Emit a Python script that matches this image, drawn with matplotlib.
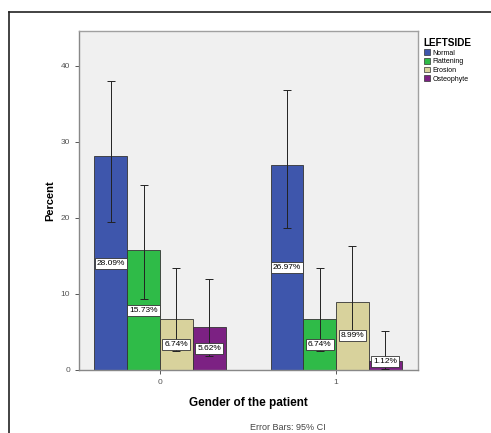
"""SPSS-style clustered bar chart: LEFTSIDE by gender, 95% CI error bars."""
import matplotlib
matplotlib.use("Agg")
import matplotlib.pyplot as plt
import numpy as np
from matplotlib.patches import Patch
from matplotlib.lines import Line2D

genders = ["0", "1"]
categories = ["Normal", "Flattening", "Erosion", "Osteophyte"]
percent = {
    "Normal": [28.09, 26.97],
    "Flattening": [15.73, 6.74],
    "Erosion": [6.74, 8.99],
    "Osteophyte": [5.62, 1.12],
}
ci_low = {
    "Normal": [19.5, 18.6],
    "Flattening": [9.3, 2.5],
    "Erosion": [2.5, 3.9],
    "Osteophyte": [1.9, 0.1],
}
ci_high = {
    "Normal": [38.0, 36.8],
    "Flattening": [24.3, 13.4],
    "Erosion": [13.4, 16.3],
    "Osteophyte": [11.9, 5.1],
}

colors = ["#3e56ac", "#2fbb48", "#d8d29c", "#7c2183"]

plt.rcParams["font.family"] = ["Liberation Sans", "DejaVu Sans"]

fig = plt.figure(figsize=(4.91, 4.33), dpi=100)
ax = fig.add_axes([79 / 491, 63 / 433, 339 / 491, 339 / 433])
ax.set_facecolor("#f0f0f0")

x = np.arange(len(genders))
width = 0.186
for i, cat in enumerate(categories):
    pos = x + (i - 1.5) * width
    vals = np.array(percent[cat])
    ax.bar(pos, vals, width, color=colors[i], edgecolor="#333333", linewidth=0.6, zorder=2)
    yerr = [vals - np.array(ci_low[cat]), np.array(ci_high[cat]) - vals]
    ax.errorbar(pos, vals, yerr=yerr, fmt="none", ecolor="#222222",
                elinewidth=0.7, capsize=3, capthick=0.7, zorder=3)
    for p, v in zip(pos, vals):
        ax.text(p, max(v / 2, 1.1), f"{v:.2f}%", ha="center", va="center",
                fontsize=6, zorder=4,
                bbox=dict(boxstyle="square,pad=0.25", fc="white", ec="#333333", lw=0.6))

ax.set_xlim(-0.46, 1.465)
ax.set_ylim(0, 44.56)
ax.set_xticks(x)
ax.set_xticklabels(genders)
ax.set_yticks([0, 10, 20, 30, 40])
ax.tick_params(axis="both", labelsize=6, colors="#555555", length=3, width=0.7)
for s in ax.spines.values():
    s.set_color("#a0a0a0")
    s.set_linewidth(1.0)
ax.spines["left"].set_color("#888888")
ax.spines["bottom"].set_color("#888888")

ax.set_ylabel("Percent", fontsize=8, fontweight="bold", labelpad=4)
ax.set_xlabel("Gender of the patient", fontsize=8.5, fontweight="bold", labelpad=8)

handles = [Patch(facecolor=c, edgecolor="#333333", linewidth=0.5) for c in colors]
leg = fig.legend(handles, categories, title="LEFTSIDE", loc="upper left",
                 bbox_to_anchor=(419 / 491, 1 - 33 / 433), frameon=False,
                 fontsize=5, title_fontsize=7.2, handlelength=0.9, handleheight=0.9,
                 handletextpad=0.3, labelspacing=0.2, borderpad=0.2)
leg.get_title().set_fontweight("bold")
leg._legend_box.align = "left"

fig.text(288 / 491, 1 - 427 / 433, "Error Bars: 95% CI", ha="center", va="center",
         fontsize=6.5, color="#444444")

# outer frame (top and left only, as in the source image)
fig.add_artist(Line2D([9 / 491, 1], [1 - 12 / 433, 1 - 12 / 433], color="#222222", lw=1.2))
fig.add_artist(Line2D([9 / 491, 9 / 491], [0, 1 - 12 / 433], color="#222222", lw=1.2))

fig.savefig("out.png", dpi=100)
